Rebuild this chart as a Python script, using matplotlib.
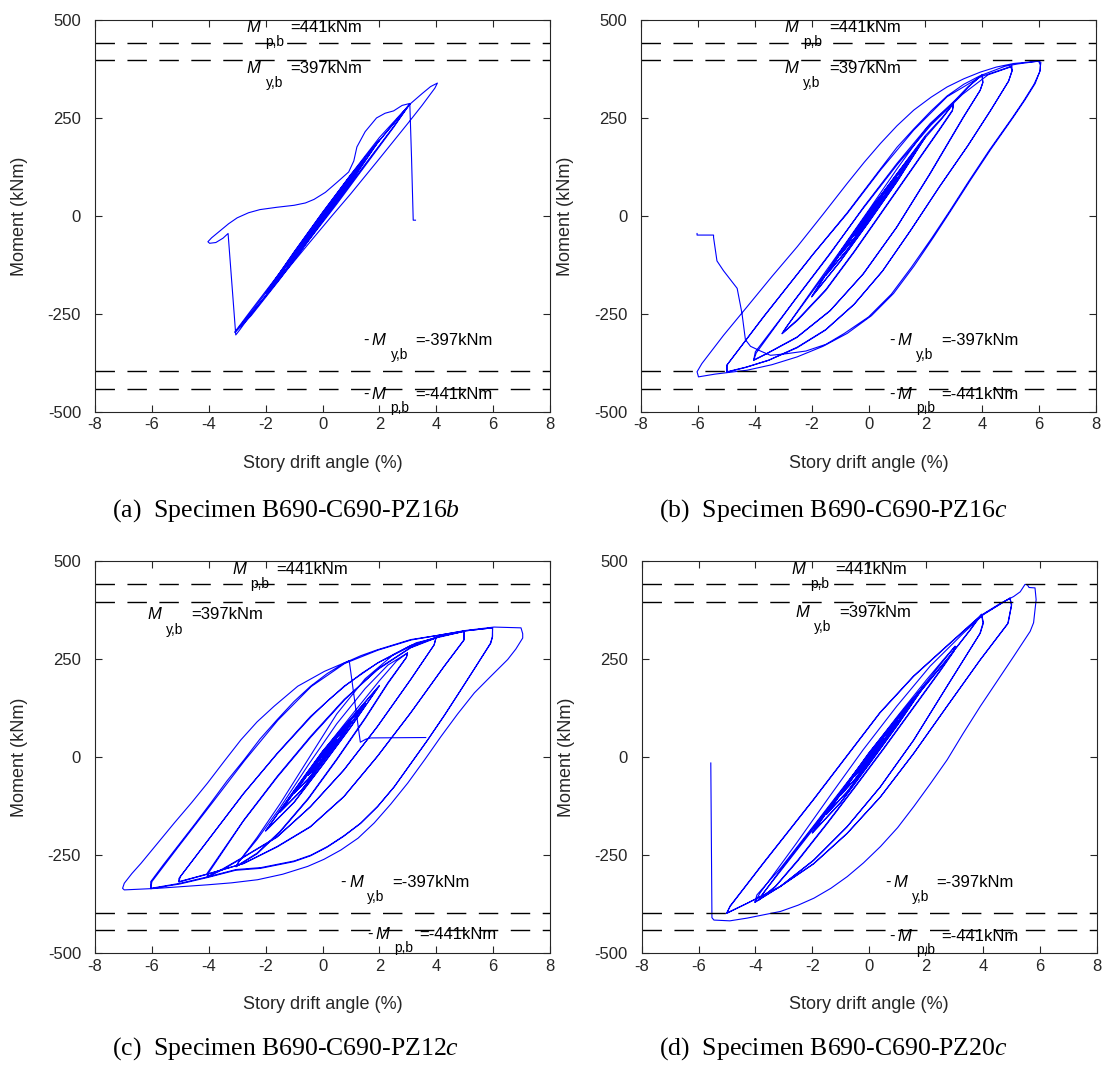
import matplotlib.pyplot as plt

plt.rcParams['font.family'] = ['Liberation Sans', 'DejaVu Sans']
plt.rcParams['axes.unicode_minus'] = False
plt.rcParams['mathtext.fontset'] = 'custom'
plt.rcParams['mathtext.rm'] = 'Liberation Serif'
plt.rcParams['mathtext.it'] = 'Liberation Serif:italic'

INK = '#262626'

# beam plastic / yield moments (kNm)
m_plastic = 441
m_yield = 397

# (drift %, moment kNm) traces, in loading order
pz16b_loops = [
    # 0.5 %
    (0, 0), (0.25, 25), (0.5, 48), (0.25, 21), (0, -3), (-0.25, -27), (-0.5, -49), (-0.25, -22), (0, 2),
    (0.25, 26), (0.5, 49), (0.25, 22), (0, -2), (-0.25, -26), (-0.5, -49), (-0.25, -23), (0, 1),
    # 1 %
    (0.5, 51), (1.0, 97), (0.5, 45), (0, -6), (-0.5, -55), (-1.0, -98), (-0.5, -46), (0, 4),
    (0.5, 53), (1.0, 98), (0.5, 46), (0, -5), (-0.5, -54), (-1.0, -99), (-0.5, -47), (0, 3),
    # 1.5 %
    (0.75, 78), (1.5, 146), (0.75, 68), (0, -9), (-0.75, -82), (-1.5, -148), (-0.75, -70), (0, 6),
    (0.75, 79), (1.5, 146), (0.75, 67), (0, -10), (-0.75, -83), (-1.5, -149), (-0.75, -71), (0, 5),
    # 2 %
    (1.0, 104), (2.0, 193), (1.0, 88), (0, -13), (-1.0, -112), (-2.0, -197), (-1.0, -92), (0, 9),
    (1.0, 105), (2.0, 194), (1.0, 87), (0, -14), (-1.0, -113), (-2.0, -198), (-1.0, -93), (0, 8),
    # 3 %
    (1.0, 106), (2.0, 200), (3.07, 285), (2.5, 228), (1.5, 132), (0.5, 35), (-0.5, -60),
    (-1.5, -158), (-2.5, -250), (-3.08, -296),
    (-2.5, -240), (-1.5, -145), (-0.5, -47), (0.5, 52), (1.5, 150), (2.5, 235), (3.07, 286),
    (2.5, 226), (1.5, 128), (0.5, 30), (-0.5, -64), (-1.5, -162), (-2.5, -254), (-3.08, -298),
    (-2.5, -245), (-1.5, -150), (-0.5, -50), (0.5, 50), (1.5, 148), (2.5, 236), (3.07, 285),
    # 4 %
    (3.5, 312), (3.8, 330), (4.04, 339), (3.95, 326), (3.5, 282), (3.0, 236), (2.0, 146),
    (1.0, 57), (0.33, 0), (-0.5, -72), (-1.5, -160), (-2.5, -250), (-2.9, -290), (-3.05, -304),
    # after fracture
    (-3.32, -45), (-3.5, -57), (-3.75, -68), (-3.97, -70), (-4.03, -66), (-3.9, -56), (-3.6, -38),
    (-3.3, -20), (-3.0, -5), (-2.6, 8), (-2.2, 16), (-1.6, 22), (-1.0, 27), (-0.6, 33), (-0.3, 42),
    (0.1, 60), (0.5, 85), (0.92, 112), (1.1, 140), (1.21, 176), (1.5, 215), (1.9, 250), (2.2, 262),
    (2.5, 268), (2.8, 282), (3.07, 287), (3.13, 150), (3.19, -11), (3.27, -11),
]

pz16c_loops = [
    # 0.5 %
    (0, 0), (0.25, 25), (0.5, 49), (0.25, 22), (0, -3), (-0.25, -27), (-0.5, -50), (-0.25, -23), (0, 2),
    (0.25, 26), (0.5, 49), (0.25, 21), (0, -3), (-0.25, -26), (-0.5, -50), (-0.25, -22), (0, 2),
    # 1 %
    (0.5, 52), (1.0, 98), (0.5, 45), (0, -7), (-0.5, -57), (-1.0, -100), (-0.5, -46), (0, 5),
    (0.5, 53), (1.0, 99), (0.5, 44), (0, -8), (-0.5, -56), (-1.0, -100), (-0.5, -47), (0, 4),
    # 1.5 %
    (0.75, 79), (1.5, 148), (0.75, 67), (0, -11), (-0.75, -86), (-1.5, -151), (-0.75, -70), (0, 8),
    (0.75, 80), (1.5, 149), (0.75, 66), (0, -12), (-0.75, -87), (-1.5, -152), (-0.75, -71), (0, 7),
    # 2 %
    (1.0, 106), (2.0, 201), (1.0, 88), (0, -16), (-1.0, -116), (-2.0, -206), (-1.0, -92), (0, 11),
    (1.0, 107), (2.0, 202), (1.0, 87), (0, -17), (-1.0, -117), (-2.0, -207), (-1.0, -93), (0, 10),
    # 3 %
    (1.0, 108), (2.0, 205), (2.6, 252), (2.99, 287), (2.95, 270), (2.5, 222), (1.5, 118), (0.5, 14),
    (-0.5, -90), (-1.5, -188), (-2.5, -265), (-3.04, -300),
    (-2.9, -285), (-2.0, -196), (-1.0, -97), (0, 4), (1.0, 104), (2.0, 200), (2.6, 250), (2.99, 287),
    (2.95, 268), (2.5, 220), (1.5, 116), (0.5, 12), (-0.5, -92), (-1.5, -190), (-2.5, -267), (-3.04, -301),
    # 4 %
    (-2.9, -285), (-2.0, -192), (-1.0, -90), (0, 14), (1.0, 120), (2.0, 220), (3.0, 292), (3.5, 330),
    (3.99, 359), (4.02, 340), (3.93, 321), (3.35, 253), (2.17, 108), (1.0, -28), (-0.17, -147),
    (-1.34, -241), (-2.51, -309), (-3.57, -351), (-4.04, -368),
    (-3.98, -347), (-2.51, -207), (-1.34, -96), (-0.17, 23), (1.0, 134), (2.17, 236), (3.11, 299),
    (3.6, 335), (3.99, 360), (4.02, 341), (3.92, 320), (3.33, 252), (2.15, 107), (0.98, -30),
    (-0.2, -149), (-1.36, -243), (-2.53, -311), (-3.58, -352), (-4.04, -369),
    # 5 %
    (-3.95, -350), (-2.6, -215), (-1.4, -100), (-0.2, 18), (1.0, 130), (2.2, 232), (3.3, 310),
    (4.2, 360), (4.99, 380), (5.04, 383), (5.05, 370), (4.93, 345), (4.3, 270), (3.5, 180), (2.5, 75),
    (1.5, -35), (0.5, -140), (-0.5, -225), (-1.5, -290), (-2.5, -335), (-3.5, -368), (-4.3, -386),
    (-4.98, -398),
    (-4.98, -381), (-3.69, -258), (-1.93, -96), (-0.75, 6), (0.42, 117), (1.59, 219), (2.76, 304),
    (3.93, 355), (4.99, 381), (5.05, 372), (4.92, 343), (4.28, 268), (3.48, 178), (2.48, 73),
    (1.48, -37), (0.48, -142), (-0.52, -227), (-1.52, -292), (-2.52, -337), (-3.52, -369),
    (-4.32, -387), (-4.98, -399),
    # 6 %
    (-4.98, -381), (-3.7, -258), (-1.95, -98), (-0.75, 8), (0.42, 120), (1.0, 175), (1.59, 222),
    (2.2, 268), (2.76, 306), (3.35, 336), (3.93, 358), (4.8, 382), (5.26, 388), (5.98, 395),
    (6.04, 385), (6.04, 372), (5.86, 338), (5.5, 296), (5.10, 253), (4.3, 170), (3.58, 91),
    (2.9, 14), (2.29, -54), (1.6, -128), (0.88, -198), (0.1, -255), (-0.75, -300), (-1.6, -333),
    (-2.51, -360), (-3.4, -380), (-4.27, -394), (-5.4, -404), (-5.98, -411),
    (-6.03, -398), (-5.86, -377), (-5.1, -305), (-4.27, -232), (-3.4, -155), (-2.51, -79),
    (-1.6, 4), (-0.75, 83), (-0.15, 137), (0.42, 185), (1.0, 230), (1.59, 270), (2.2, 303),
    (2.76, 329), (3.35, 350), (3.93, 367), (4.5, 380), (5.10, 389), (5.98, 395), (6.06, 392),
    (6.02, 368), (5.82, 336), (5.45, 293), (5.05, 250), (4.25, 168), (3.52, 88), (2.85, 12),
    (2.22, -57), (1.5, -132), (0.8, -200), (0.0, -258), (-0.85, -300), (-1.5, -328), (-2.2, -345),
    (-2.9, -352), (-3.45, -356),
    # after fracture
    (-3.80, -345), (-4.15, -333), (-4.33, -316), (-4.45, -249), (-4.62, -185), (-5.1, -140),
    (-5.33, -115), (-5.45, -55), (-5.45, -49), (-6.03, -49), (-6.03, -45),
]

pz12c_loops = [
    # 0.5 %
    (0, 0), (0.25, 23), (0.5, 45), (0.25, 19), (0, -4), (-0.25, -27), (-0.5, -46), (-0.25, -20), (0, 3),
    (0.25, 24), (0.5, 45), (0.25, 18), (0, -5), (-0.25, -27), (-0.5, -46), (-0.25, -21), (0, 2),
    # 1 %
    (0.5, 48), (1.0, 90), (0.5, 40), (0, -8), (-0.5, -55), (-1.0, -92), (-0.5, -42), (0, 6),
    (0.5, 49), (1.0, 91), (0.5, 39), (0, -9), (-0.5, -56), (-1.0, -93), (-0.5, -43), (0, 5),
    # 1.5 %
    (0.75, 73), (1.5, 136), (0.75, 60), (0, -13), (-0.75, -85), (-1.5, -140), (-0.75, -65), (0, 10),
    (0.75, 74), (1.5, 137), (0.75, 59), (0, -14), (-0.75, -86), (-1.5, -141), (-0.75, -66), (0, 9),
    # 2 %
    (1.0, 98), (2.0, 182), (1.0, 78), (0, -20), (-1.0, -115), (-2.0, -188), (-1.0, -85), (0, 15),
    (1.0, 99), (2.0, 183), (1.0, 77), (0, -21), (-1.0, -116), (-2.0, -189), (-1.0, -86), (0, 14),
    # 3 %
    (1.0, 105), (2.0, 195), (2.6, 245), (2.99, 266), (2.95, 255), (2.3, 190), (1.5, 100), (0.5, -5),
    (-0.5, -105), (-1.5, -190), (-2.3, -245), (-3.04, -279),
    (-2.95, -268), (-2.3, -210), (-1.5, -130), (-0.5, -20), (0.5, 85), (1.5, 175), (2.3, 235), (2.99, 266),
    (2.95, 254), (2.3, 188), (1.5, 98), (0.5, -7), (-0.5, -107), (-1.5, -192), (-2.3, -247), (-3.04, -280),
    # 4 %
    (-2.95, -268), (-2.3, -205), (-1.5, -120), (-0.5, -5), (0.5, 110), (1.5, 200), (2.5, 262),
    (3.3, 292), (3.99, 304), (3.93, 287), (3.10, 198), (1.93, 78), (0.76, -32), (-0.42, -126),
    (-1.59, -203), (-2.76, -254), (-3.5, -285), (-4.05, -305),
    (-4.05, -296), (-2.76, -160), (-1.59, -49), (-0.42, 53), (0.76, 147), (1.93, 223), (3.10, 279),
    (3.99, 304), (3.92, 286), (3.08, 196), (1.91, 76), (0.74, -34), (-0.44, -128), (-1.61, -205),
    (-2.78, -256), (-3.5, -287), (-4.05, -306),
    # 5 %
    (-4.0, -295), (-2.8, -165), (-1.6, -52), (-0.4, 52), (0.8, 148), (2.0, 228), (3.1, 280),
    (4.0, 306), (4.98, 321), (4.98, 300), (4.28, 232), (3.10, 113), (1.93, 2), (0.76, -100),
    (-0.42, -177), (-1.59, -228), (-2.76, -271), (-3.93, -296), (-5.05, -318),
    (-5.05, -310), (-3.93, -203), (-2.76, -92), (-1.59, 10), (-0.42, 104), (0.76, 181), (1.93, 240),
    (3.10, 283), (3.98, 304), (4.98, 321), (4.97, 298), (4.26, 230), (3.08, 111), (1.91, 0),
    (0.74, -102), (-0.44, -179), (-1.61, -230), (-2.78, -272), (-3.95, -297), (-5.05, -319),
    # 6 %
    (-5.0, -305), (-3.95, -205), (-2.8, -95), (-1.6, 8), (-0.4, 103), (0.2, 145), (0.8, 182),
    (1.4, 215), (2.0, 243), (3.1, 285), (4.0, 306), (5.0, 322), (5.98, 330), (5.98, 308),
    (5.92, 291), (5.4, 232), (4.87, 172), (4.3, 108), (3.70, 44), (3.1, -17), (2.53, -75),
    (1.95, -125), (1.35, -168), (0.75, -201), (0.18, -228), (-0.4, -250), (-0.99, -265),
    (-2.16, -282), (-3.04, -287), (-4.0, -305), (-5.0, -322), (-6.04, -335),
    (-6.04, -318), (-5.6, -275), (-5.10, -228), (-4.5, -172), (-3.93, -117), (-3.35, -60),
    (-2.76, -7), (-2.2, 46), (-1.59, 96), (-1.0, 142), (-0.42, 181), (0.16, 213), (0.76, 240),
    (1.35, 259), (1.93, 274), (3.10, 300), (3.98, 310), (4.98, 322), (5.98, 330), (5.97, 306),
    (5.9, 290), (5.38, 230), (4.85, 170), (4.28, 106), (3.68, 42), (3.08, -19), (2.51, -77),
    (1.93, -127), (1.33, -170), (0.73, -203), (0.16, -230), (-0.42, -252), (-1.01, -267),
    (-2.18, -284), (-3.06, -289), (-4.02, -307), (-5.02, -324), (-6.04, -336),
    # 7 %
    (-6.0, -318), (-5.08, -230), (-3.9, -119), (-2.74, -9), (-1.57, 94), (-0.40, 180), (0.78, 239),
    (1.95, 273), (3.12, 299), (4.0, 310), (5.0, 323), (6.03, 332), (6.98, 330), (7.04, 315),
    (7.04, 304), (6.8, 276), (6.51, 249), (5.9, 205), (5.34, 164), (4.75, 110), (4.17, 53),
    (3.6, -6), (3.0, -66), (2.4, -120), (1.82, -168), (1.25, -207), (0.65, -237), (0.05, -261),
    (-0.52, -279), (-1.4, -299), (-2.28, -313), (-3.2, -321), (-4.04, -326), (-5.80, -335),
    (-6.97, -339), (-7.03, -335),
    (-6.97, -322), (-6.7, -297), (-6.38, -271), (-5.8, -220), (-5.21, -168), (-4.6, -116),
    (-4.04, -66), (-3.45, -10), (-2.87, 44), (-2.3, 90), (-1.70, 130), (-0.87, 181), (0.07, 219),
    (0.94, 246),
    # after fracture
    (1.33, 38), (1.53, 46), (1.70, 49), (3.63, 50),
]

pz20c_loops = [
    # 0.5 %
    (0, 0), (0.25, 24), (0.5, 47), (0.25, 20), (0, -4), (-0.25, -27), (-0.5, -48), (-0.25, -21), (0, 3),
    (0.25, 25), (0.5, 47), (0.25, 19), (0, -4), (-0.25, -28), (-0.5, -48), (-0.25, -22), (0, 2),
    # 1 %
    (0.5, 50), (1.0, 94), (0.5, 42), (0, -8), (-0.5, -56), (-1.0, -96), (-0.5, -44), (0, 6),
    (0.5, 51), (1.0, 95), (0.5, 41), (0, -9), (-0.5, -57), (-1.0, -97), (-0.5, -45), (0, 5),
    # 1.5 %
    (0.75, 75), (1.5, 141), (0.75, 63), (0, -12), (-0.75, -86), (-1.5, -145), (-0.75, -68), (0, 9),
    (0.75, 76), (1.5, 142), (0.75, 62), (0, -13), (-0.75, -87), (-1.5, -146), (-0.75, -69), (0, 8),
    # 2 %
    (1.0, 101), (2.0, 188), (1.0, 83), (0, -17), (-1.0, -115), (-2.0, -193), (-1.0, -89), (0, 12),
    (1.0, 102), (2.0, 189), (1.0, 82), (0, -18), (-1.0, -116), (-2.0, -194), (-1.0, -90), (0, 11),
    # 3 %
    (1.0, 105), (2.0, 196), (2.6, 248), (3.02, 283), (2.98, 272), (2.5, 222), (1.5, 122), (0.5, 22),
    (-0.5, -75), (-1.5, -170), (-2.5, -262), (-3.3, -330), (-3.9, -365),
    (-3.7, -345), (-3.0, -280), (-2.0, -187), (-1.0, -93), (0, 2), (1.0, 97), (2.0, 190), (2.6, 245),
    (3.02, 283), (2.98, 270), (2.5, 220), (1.5, 120), (0.5, 20), (-0.5, -77), (-1.5, -172),
    (-2.5, -264), (-3.3, -331), (-3.9, -366),
    # 4 %
    (-3.75, -350), (-3.12, -288), (-1.94, -177), (-0.77, -67), (0.40, 44), (1.57, 147), (2.74, 249),
    (3.56, 325), (3.95, 364), (4.02, 343), (3.91, 317), (2.74, 181), (1.57, 44), (0.40, -75),
    (-0.77, -177), (-1.94, -262), (-3.12, -330), (-4.02, -370),
    (-3.95, -352), (-3.1, -282), (-1.92, -172), (-0.75, -62), (0.42, 48), (1.59, 150), (2.76, 252),
    (3.56, 326), (3.95, 365), (4.0, 342), (3.89, 315), (2.72, 179), (1.55, 42), (0.38, -77),
    (-0.79, -179), (-1.96, -264), (-3.14, -331), (-4.02, -371),
    # 5 %
    (-3.85, -348), (-2.56, -220), (-1.39, -100), (-0.21, 19), (0.97, 130), (2.14, 232), (3.32, 317),
    (4.02, 364), (4.95, 406), (5.01, 389), (4.89, 343), (3.91, 249), (2.74, 130), (1.57, 10),
    (0.40, -101), (-0.77, -194), (-1.94, -271), (-3.12, -330), (-4.29, -373), (-5.01, -398),
    (-4.89, -381), (-3.72, -271), (-1.96, -109), (-0.79, 2), (0.38, 113), (1.56, 206), (2.73, 283),
    (3.91, 360), (4.95, 406), (5.0, 387), (4.87, 340), (3.89, 247), (2.72, 128), (1.55, 8),
    (0.38, -103), (-0.79, -196), (-1.96, -273), (-3.14, -331), (-4.31, -374), (-5.01, -399),
    # 6 %
    (-4.89, -380), (-3.72, -270), (-1.96, -108), (-0.79, 3), (0.38, 114), (1.56, 207), (2.73, 284),
    (3.91, 361), (4.6, 392), (5.08, 410), (5.31, 422), (5.48, 441), (5.56, 440), (5.62, 433),
    (5.83, 432), (5.87, 402), (5.78, 343), (5.66, 321), (5.08, 257), (4.5, 194), (3.91, 130),
    (3.3, 60), (2.74, -7), (2.15, -68), (1.57, -126), (1.0, -180), (0.40, -228), (-0.2, -270),
    (-0.77, -305), (-1.35, -335), (-1.94, -360), (-2.5, -378), (-3.12, -394), (-4.29, -411),
    (-4.9, -418), (-5.46, -416), (-5.53, -410),
    # after fracture
    (-5.57, -15),
]

specimens = ['PZ16$b$', 'PZ16$c$', 'PZ12$c$', 'PZ20$c$']
panel_tags = ['(a)', '(b)', '(c)', '(d)']
traces = [pz16b_loops, pz16c_loops, pz12c_loops, pz20c_loops]

# text anchors for the moment-limit labels, per panel:
# (x of M, x of subscript, x of value, y of label, y of subscript) for +Mp, +My
upper_labels = [
    [(-2.67, -2.02, -1.14, 482, 444), (-2.67, -1.99, -1.14, 376, 338)],
    [(-2.95, -2.29, -1.39, 482, 444), (-2.95, -2.29, -1.39, 376, 338)],
    [(-3.16, -2.54, -1.64, 479, 442), (-6.15, -5.50, -4.62, 364, 325)],
    [(-2.73, -2.08, -1.20, 479, 442), (-2.59, -1.93, -1.05, 370, 332)],
]
# (x of minus sign, x of M, x of subscript, x of value, y of label, y of subscript) for -My, -Mp
lower_labels = [
    [(1.42, 1.74, 2.39, 3.27, -317, -355), (1.42, 1.74, 2.39, 3.27, -455, -491)],
    [(0.73, 1.02, 1.67, 2.55, -317, -355), (0.73, 1.02, 1.67, 2.55, -455, -491)],
    [(0.63, 0.94, 1.57, 2.47, -319, -356), (1.57, 1.88, 2.53, 3.41, -452, -488)],
    [(0.56, 0.85, 1.49, 2.35, -319, -356), (0.71, 1.00, 1.65, 2.52, -457, -492)],
]

fig = plt.figure(figsize=(11.02, 10.65), dpi=100)
axes_boxes = [
    [0.0862, 0.6134, 0.4129, 0.3678],
    [0.5817, 0.6134, 0.4129, 0.3678],
    [0.0862, 0.1052, 0.4129, 0.3678],
    [0.5823, 0.1052, 0.4129, 0.3678],
]
caption_xy = [(0.2595, 0.521), (0.756, 0.521), (0.2595, 0.015), (0.756, 0.015)]

for i, box in enumerate(axes_boxes):
    ax = fig.add_axes(box)
    drift, moment = zip(*traces[i])
    ax.plot(drift, moment, color=(0, 0, 1), lw=0.8)

    for level in (m_plastic, m_yield, -m_yield, -m_plastic):
        ax.axhline(level, color='black', lw=1.0, dashes=(14, 9))

    names = ['p,b', 'y,b']
    values = [m_plastic, m_yield]
    for (xm, xs, xv, y, ys), sub, val in zip(upper_labels[i], names, values):
        ax.text(xm, y, 'M', style='italic', fontsize=12, ha='left', va='center')
        ax.text(xs, ys, sub, fontsize=10, ha='left', va='center')
        ax.text(xv, y, f'={val}kNm', fontsize=12, ha='left', va='center')
    for (xd, xm, xs, xv, y, ys), sub, val in zip(lower_labels[i], names[::-1], values[::-1]):
        ax.text(xd, y, '-', fontsize=12, ha='left', va='center')
        ax.text(xm, y, 'M', style='italic', fontsize=12, ha='left', va='center')
        ax.text(xs, ys, sub, fontsize=10, ha='left', va='center')
        ax.text(xv, y, f'=-{val}kNm', fontsize=12, ha='left', va='center')

    ax.set_xlim(-8, 8)
    ax.set_ylim(-500, 500)
    ax.set_xticks(range(-8, 9, 2))
    ax.set_yticks([-500, -250, 0, 250, 500])
    ax.tick_params(direction='in', top=True, right=True, length=5, width=0.8,
                   labelsize=12, colors=INK)
    ax.tick_params(axis='y', pad=10)
    ax.tick_params(axis='x', pad=4)
    for s in ax.spines.values():
        s.set_color(INK)
        s.set_linewidth(0.8)

    ax.set_xlabel('Story drift angle (%)', fontsize=13, color=INK)
    ax.set_ylabel('Moment (kNm)', fontsize=13, color=INK)
    ax.xaxis.label.set_va('center')
    ax.yaxis.label.set_va('center')
    ax.xaxis.set_label_coords(0.5, -0.131)
    ax.yaxis.set_label_coords(-0.165, 0.5)

    cx, cy = caption_xy[i]
    fig.text(cx, cy, f'{panel_tags[i]}  Specimen B690-C690-{specimens[i]}',
             family='Liberation Serif', fontsize=18.5, ha='center', va='center')

fig.savefig('out.png', dpi=100)
